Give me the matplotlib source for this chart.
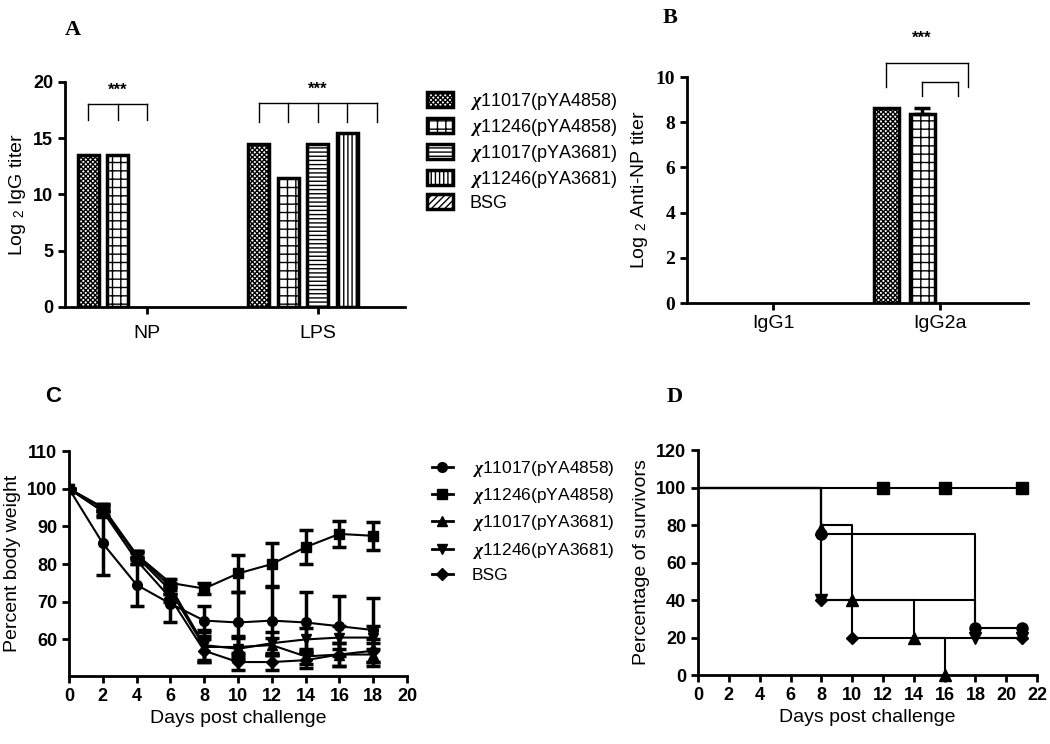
import matplotlib
matplotlib.use("Agg")
import matplotlib.pyplot as plt
from matplotlib.patches import Patch
import numpy as np

plt.rcParams["font.family"] = ["Liberation Sans", "DejaVu Sans"]
plt.rcParams["mathtext.fontset"] = "custom"
plt.rcParams["mathtext.it"] = "Liberation Serif:bold:italic"
plt.rcParams["mathtext.rm"] = "Liberation Serif:bold"
plt.rcParams["mathtext.sf"] = "Liberation Sans"
plt.rcParams["hatch.linewidth"] = 1.0

# ---- data ----
strains = [r"$\chi$11017(pYA4858)", r"$\chi$11246(pYA4858)",
           r"$\chi$11017(pYA3681)", r"$\chi$11246(pYA3681)", "BSG"]
hatches = ["xxxxxxx", "++", "----", "||||", "/////"]
markers = ["o", "s", "^", "v", "D"]

# panel A
a_groups = ["NP", "LPS"]
a_values = [[13.5, 14.5], [13.5, 11.5], [0, 14.5], [0, 15.5], [0, 0]]

# panel B
b_groups = ["IgG1", "IgG2a"]
b_values = [[0, 8.65], [0, 8.35], [0, 0], [0, 0]]
b_errors = [[0, 0], [0, 0.3], [0, 0], [0, 0]]

# panel C
c_days = [0, 2, 4, 6, 8, 10, 12, 14, 16, 18]
c_weight = [
    [100, 85.5, 74.5, 69.5, 65, 64.5, 65, 64.5, 63.5, 62.5],
    [100, 94, 82.5, 75, 73.5, 77.5, 80, 84.5, 88, 87.5],
    [100, 95, 82, 73, 58, 58, 58.5, 55.5, 56, 56],
    [100, 95, 82.5, 74, 58.5, 57.5, 59, 60, 60.5, 60.5],
    [100, 94, 81, 71, 57, 54, 54, 54.5, 56, 57],
]
c_err = [
    [0, 8.5, 5.5, 5, 4, 8, 9, 8, 8, 8.5],
    [0, 1.5, 1, 1, 1.5, 5, 5.7, 4.5, 3.5, 3.7],
    [0, 1, 1, 1, 4, 3, 2, 2, 3, 3],
    [0, 1, 1, 1, 4, 3, 3, 3, 3, 3],
    [0, 1, 1, 1, 3, 2, 2, 2, 3, 3],
]

# panel D (Kaplan-Meier steps)
d_times = [[0, 8, 18, 21], [0, 21], [0, 8, 10, 14, 16], [0, 8, 18, 21], [0, 8, 10, 21]]
d_surv = [[100, 75, 25, 25], [100, 100], [100, 80, 40, 20, 0],
          [100, 40, 20, 20], [100, 40, 20, 20]]
d_mark_t = [[8, 18, 21], [12, 16, 21], [8, 10, 14, 16], [8, 18, 21], [8, 10, 21]]
d_mark_s = [[75, 25, 25], [100, 100, 100], [78, 40, 20, 0], [40, 20, 20], [40, 20, 20]]


def style_axes(ax, serif=False, size=13):
    for s in ["top", "right"]:
        ax.spines[s].set_visible(False)
    for s in ["left", "bottom"]:
        ax.spines[s].set_linewidth(2)
    ax.tick_params(width=2, length=5, labelsize=size)
    fam = ["Liberation Serif"] if serif else ["Liberation Sans"]
    for lab in ax.get_xticklabels() + ax.get_yticklabels():
        lab.set_fontweight("bold")
        lab.set_family(fam)


def bracket(ax, xs, y_top, y_bot, lw=1):
    ax.plot([xs[0], xs[-1]], [y_top, y_top], color="black", lw=lw, clip_on=False)
    for x in xs:
        ax.plot([x, x], [y_top, y_bot], color="black", lw=lw, clip_on=False)


fig = plt.figure(figsize=(10.5, 7.44), dpi=100)

# ---- A ----
axA = fig.add_axes([0.0619, 0.5874, 0.3238, 0.3024])
step, width = 0.1725, 0.123
xa = np.arange(len(a_groups))
for i, vals in enumerate(a_values):
    axA.bar(xa + (i - 2) * step, vals, width=width, facecolor="white",
            edgecolor="black", linewidth=[2.5 if v > 0 else 0 for v in vals],
            hatch=hatches[i])
axA.set_xlim(-0.48, 1.51)
axA.set_ylim(0, 20)
axA.set_yticks([0, 5, 10, 15, 20])
axA.set_xticks(xa)
axA.set_xticklabels(a_groups)
axA.tick_params(axis="x", length=0, pad=8)
axA.set_ylabel("Log $_{\\mathsf{2}}$ IgG titer", fontsize=14)
style_axes(axA)
for lab in axA.get_xticklabels():
    lab.set_fontweight("normal")
    lab.set_fontsize(14)
bracket(axA, [xa[0] - 2 * step, xa[0] - step, xa[0]], 18.05, 16.6)
axA.text(xa[0] - step, 18.6, "***", ha="center", va="bottom", fontsize=12, fontweight="bold")
bracket(axA, [xa[1] + (k - 2) * step for k in range(5)], 18.1, 16.4)
axA.text(xa[1], 18.7, "***", ha="center", va="bottom", fontsize=12, fontweight="bold")
a_handles = [Patch(facecolor="white", edgecolor="black", linewidth=2.5, hatch=h)
             for h in hatches]
axA.legend(handles=a_handles, labels=strains, loc="upper left",
           bbox_to_anchor=(1.065, 0.96), borderaxespad=0, borderpad=0,
           frameon=False, fontsize=13, handlelength=1.45, handleheight=0.9,
           labelspacing=0.27, handletextpad=0.9)

# ---- B ----
axB = fig.add_axes([0.6543, 0.5927, 0.3248, 0.3038])
stepb, widthb = 0.2156, 0.15
xb = np.arange(len(b_groups))
for i, vals in enumerate(b_values):
    xs = xb + (i - 1.5) * stepb
    axB.bar(xs, vals, width=widthb, facecolor="white", edgecolor="black",
            linewidth=[2.5 if v > 0 else 0 for v in vals], hatch=hatches[i])
    for x, v, e in zip(xs, vals, b_errors[i]):
        if e > 0:
            axB.errorbar(x, v, yerr=[[0], [e]], color="black", capsize=6,
                         elinewidth=2.5, capthick=2.5)
axB.set_xlim(-0.515, 1.527)
axB.set_ylim(0, 10)
axB.set_yticks([0, 2, 4, 6, 8, 10])
axB.set_xticks(xb)
axB.set_xticklabels(b_groups)
axB.set_ylabel("Log $_{\\mathsf{2}}$ Anti-NP titer", fontsize=14)
style_axes(axB, serif=True, size=14)
for lab in axB.get_xticklabels():
    lab.set_family(["Liberation Sans"])
    lab.set_fontweight("normal")
    lab.set_fontsize(14)
bx = [xb[1] + (k - 1.5) * stepb for k in range(4)]
bracket(axB, [bx[0], bx[2] + 0.28 * stepb], 10.6, 9.55)
bracket(axB, [bx[1], bx[2]], 9.8, 9.15)
axB.text(bx[1], 11.4, "***", ha="center", va="bottom", fontsize=12, fontweight="bold")

# ---- C ----
axC = fig.add_axes([0.0657, 0.0914, 0.3219, 0.3024])
for i in range(len(c_weight)):
    axC.errorbar(c_days, c_weight[i], yerr=c_err[i], color="black", marker=markers[i],
                 markersize=7 if markers[i] != "D" else 6, lw=1.5,
                 elinewidth=2.5, capsize=5, capthick=2.5)
axC.set_xlim(0, 20)
axC.set_ylim(50.3, 110)
axC.set_xticks(range(0, 21, 2))
axC.set_yticks(range(60, 111, 10))
axC.set_xlabel("Days post challenge", fontsize=14)
axC.set_ylabel("Percent body weight", fontsize=14)
style_axes(axC)
c_handles = [plt.Line2D([], [], color="black", marker=m, lw=2,
                        markersize=7 if m != "D" else 6) for m in markers]
axC.legend(handles=c_handles, labels=strains, loc="upper left",
           bbox_to_anchor=(1.074, 0.965), borderaxespad=0, borderpad=0,
           frameon=False, fontsize=12.5, handlelength=1.2,
           labelspacing=0.42, handletextpad=1.1)

# ---- D ----
axD = fig.add_axes([0.6648, 0.0927, 0.3229, 0.3024])
for i in range(len(d_times)):
    axD.plot(d_times[i], d_surv[i], drawstyle="steps-post", color="black", lw=1.5)
    axD.plot(d_mark_t[i], d_mark_s[i], linestyle="none", marker=markers[i],
             color="black", markersize=8 if markers[i] != "D" else 6.5, clip_on=False)
axD.set_xlim(0, 22)
axD.set_ylim(0, 120)
axD.set_xticks(range(0, 23, 2))
axD.set_yticks(range(0, 121, 20))
axD.set_xlabel("Days post challenge", fontsize=14)
axD.set_ylabel("Percentage of survivors", fontsize=14)
style_axes(axD)

# panel letters
fig.text(73 / 1050, 1 - 30 / 744, "A", fontsize=16, fontweight="bold",
         family=["Liberation Serif"], ha="center", va="center")
fig.text(670 / 1050, 1 - 18 / 744, "B", fontsize=16, fontweight="bold",
         family=["Liberation Serif"], ha="center", va="center")
fig.text(53 / 1050, 1 - 397 / 744, "C", fontsize=16, fontweight="bold",
         family=["Liberation Sans"], ha="center", va="center")
fig.text(675 / 1050, 1 - 397 / 744, "D", fontsize=16, fontweight="bold",
         family=["Liberation Serif"], ha="center", va="center")

fig.savefig("out.png", dpi=100)
